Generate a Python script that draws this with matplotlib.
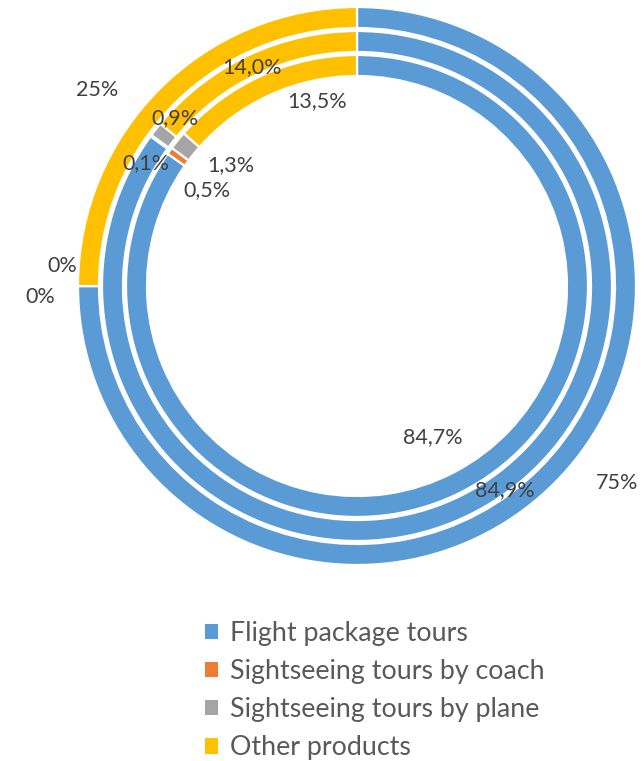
import matplotlib
matplotlib.use("Agg")
import matplotlib.pyplot as plt
from matplotlib.patches import Patch

# Share of each product per ring (outer -> inner), in percent
categories = ["Flight package tours", "Sightseeing tours by coach",
              "Sightseeing tours by plane", "Other products"]
outer_vals = [75, 0, 0, 25]
middle_vals = [84.9, 0.1, 0.9, 14.0]
inner_vals = [84.7, 0.5, 1.3, 13.5]
colors = ["#5B9BD5", "#ED7D31", "#A5A5A5", "#FFC000"]

W, H = 644, 761
fig = plt.figure(figsize=(W / 100, H / 100), dpi=100)
ax = fig.add_axes([0, 0, 1, 1])
ax.set_xlim(0, W)
ax.set_ylim(0, H)
ax.set_aspect("equal")
ax.axis("off")

cx, cy = 357, H - 286
ring_w = 21
rings = [(outer_vals, 279, 0), (middle_vals, 255, 1), (inner_vals, 231, 1)]

for vals, r, dec in rings:
    ax.pie(vals, colors=colors, radius=r, center=(cx, cy), startangle=90,
           counterclock=False, normalize=True,
           wedgeprops=dict(width=ring_w, edgecolor="white", linewidth=1.6))

ax.set_xlim(0, W)
ax.set_ylim(0, H)

# label spots in image pixels (x, y from top), same order as the values
label_pos = [
    [(617, 483), (40, 297), (62, 266), (97, 90)],
    [(505, 490), (146, 163), (175, 118), (252, 67)],
    [(433, 437), (207, 190), (231, 165), (317, 101)],
]
for (vals, r, dec), spots in zip(rings, label_pos):
    for v, (x, y) in zip(vals, spots):
        txt = f"{v:.{dec}f}%".replace(".", ",")
        ax.text(x, H - y, txt, ha="center", va="center", fontsize=15.5,
                color="#404040", family="Lato")

handles = [Patch(facecolor=c, edgecolor="none") for c in colors]
leg = ax.legend(handles, categories, loc="upper left",
                bbox_to_anchor=(205 / W, 1 - 621 / H), frameon=False,
                handlelength=0.5, handleheight=0.5,
                handletextpad=0.45, labelspacing=0.49, borderpad=0,
                borderaxespad=0, prop={"family": "Lato", "size": 19.3})
for t in leg.get_texts():
    t.set_color("#595959")

fig.savefig("out.png", dpi=100, facecolor="white")
